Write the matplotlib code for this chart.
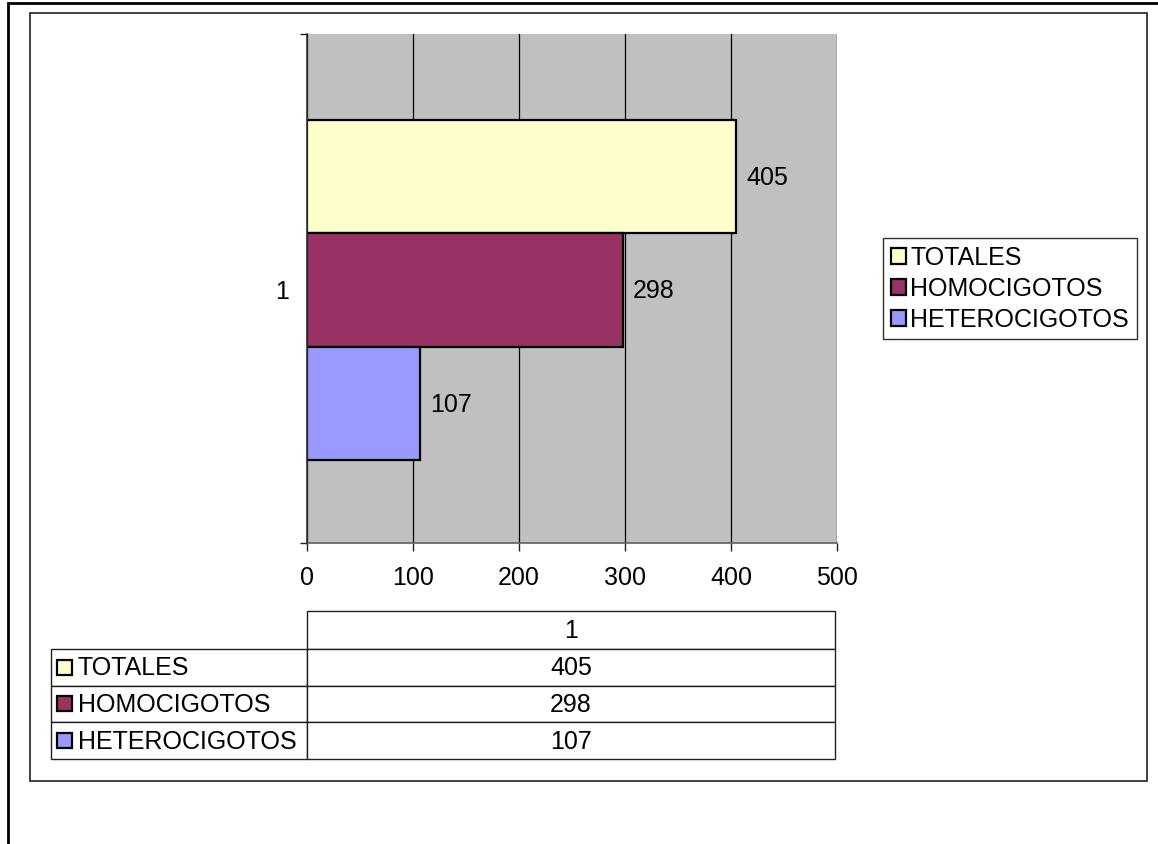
import matplotlib
matplotlib.use("Agg")
import matplotlib.pyplot as plt
from matplotlib.patches import Patch, Rectangle
from matplotlib.table import Table

plt.rcParams["font.family"] = ["Liberation Sans", "DejaVu Sans"]
plt.rcParams["font.size"] = 18

# datos
series = ["TOTALES", "HOMOCIGOTOS", "HETEROCIGOTOS"]
valores = [405, 298, 107]
colores = ["#FFFFCC", "#993366", "#9999FF"]
categoria = "1"
xticks = [0, 100, 200, 300, 400, 500]

W, H = 1158, 845
fig = plt.figure(figsize=(W / 100, H / 100), dpi=100)


def fbox(x0, y0, x1, y1):
    # caja en pixeles (origen arriba-izquierda) -> coordenadas de figura
    return [x0 / W, 1 - y1 / H, (x1 - x0) / W, (y1 - y0) / H]


# marcos exteriores
fig.add_artist(Rectangle((8 / W, -0.1), 1.2, 1 - 3.5 / H + 0.1, transform=fig.transFigure,
                         fill=False, lw=2.0, ec="black"))
fig.add_artist(Rectangle((30 / W, 1 - 782 / H), (1147 - 30) / W, (782 - 14) / H,
                         transform=fig.transFigure, fill=False, lw=1.2, ec="#202020"))

# grafico de barras
ax = fig.add_axes(fbox(307, 35, 837, 544))
ax.set_facecolor("#C0C0C0")
alto = 0.223
for i, (s, v, c) in enumerate(zip(series, valores, colores)):
    y = 0.497 + (1 - i) * alto
    b = ax.barh(y, v, height=alto, color=c, edgecolor="black", lw=1.6, zorder=3, label=s)
    ax.bar_label(b, labels=[str(v)], padding=7, fontsize=18)

ax.set_xlim(0, 500)
ax.set_ylim(0, 1)
ax.set_xticks(xticks)
ax.tick_params(axis="x", length=6, width=1, pad=10, color="#202020")
ax.set_yticks([0.5], labels=[categoria])
ax.tick_params(axis="y", which="major", length=0, pad=13)
ax.set_yticks([0, 1], minor=True)
ax.tick_params(axis="y", which="minor", length=5, width=1, color="#202020")
ax.grid(axis="x", color="black", lw=0.9, zorder=1)
ax.set_axisbelow(True)
for s in ["top", "right"]:
    ax.spines[s].set_visible(False)
ax.spines["left"].set_color("#303030")
ax.spines["left"].set_linewidth(1.2)
ax.spines["left"].set_zorder(4)
ax.spines["bottom"].set_color("#606060")
ax.spines["bottom"].set_linewidth(1.2)

# leyenda
handles = [Patch(facecolor=c, edgecolor="black", lw=1.6) for c in colores]
fig.legend(handles, series, loc="upper left", bbox_to_anchor=(883 / W, 1 - 239 / H),
           frameon=True, fancybox=False, edgecolor="#303030", framealpha=1,
           handlelength=0.6, handleheight=0.6, handletextpad=0.2, borderpad=0.3,
           labelspacing=0.28, borderaxespad=0)

# tabla de datos: el bbox cubre solo la columna de valores
tx = fig.add_axes(fbox(51, 612, 835, 760))
tx.axis("off")
ancho_etq, ancho_val = 256 / 784, 528 / 784
h_head, h_row = 38, 36.7
tot = h_head + 3 * h_row
tabla = Table(tx, bbox=[ancho_etq, 0, ancho_val, 1])
tabla.add_cell(0, 0, ancho_val, h_head / tot, text=categoria, loc="center")
for i, (s, v) in enumerate(zip(series, valores)):
    etq = tabla.add_cell(i + 1, -1, ancho_etq, h_row / tot, text=s, loc="left")
    etq.PAD = 0.105
    tabla.add_cell(i + 1, 0, ancho_val, h_row / tot, text=str(v), loc="center")
tabla.auto_set_font_size(False)
tabla.set_fontsize(18)
for cell in tabla.get_celld().values():
    cell.set_edgecolor("#202020")
    cell.set_linewidth(1.0)
tx.add_table(tabla)

for i, c in enumerate(colores):
    yc = 1 - (h_head + h_row * (i + 0.5)) / tot
    tx.add_patch(Rectangle((6 / 784, yc - 7.5 / tot), 15 / 784, 15 / tot,
                           transform=tx.transAxes, facecolor=c, edgecolor="black",
                           lw=1.6, zorder=5, clip_on=False))

fig.savefig("out.png", dpi=100)
